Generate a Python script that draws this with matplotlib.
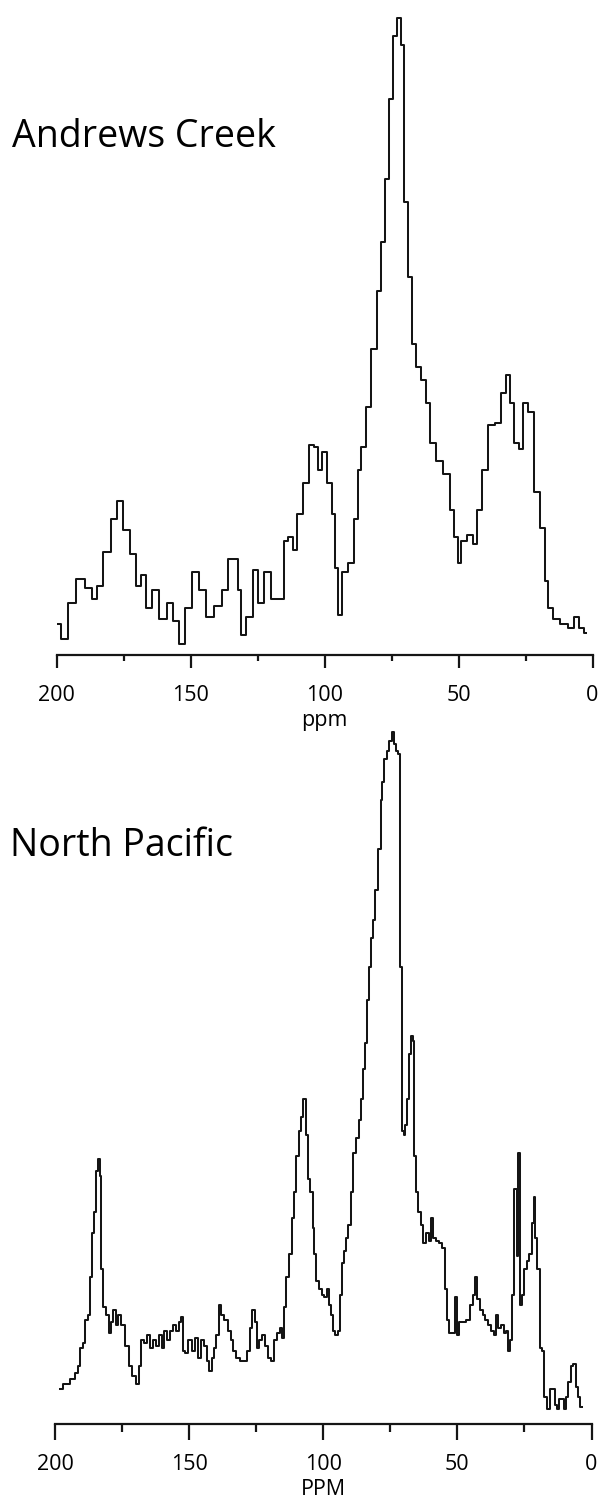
#!/usr/bin/env python

#===========================================================================
#
# Plot 13C NMR spectra - Andrews Creek and North Pacific
#
#===========================================================================

import matplotlib
matplotlib.use("Agg")
import matplotlib.pyplot as plt
from matplotlib.ticker import MultipleLocator

# Andrews Creek spectrum - chemical shift (ppm) and relative intensity

ppmAndrews = [200.0, 196.9, 194.7, 191.1, 187.5, 186.1, 184.0, 181.1, 178.2, 176.4,
              173.9, 171.1, 169.6, 167.5, 165.4, 163.2, 160.3, 157.5, 155.3, 153.2,
              151.0, 148.2, 145.3, 143.2, 139.6, 136.7, 135.3, 133.1, 131.7, 130.3,
              128.1, 125.6, 123.8, 121.0, 118.8, 115.5, 114.5, 112.4, 111.0, 109.5,
              106.7, 104.5, 103.1, 101.6, 100.2, 98.1, 96.6, 95.2, 94.5, 92.3,
              90.2, 88.0, 87.3, 85.2, 83.8, 81.6, 79.5, 78.0, 76.6, 75.2,
              73.7, 72.3, 70.9, 69.4, 68.0, 66.6, 65.1, 63.0, 61.6, 59.4,
              57.3, 54.4, 52.3, 50.8, 49.8, 48.0, 45.8, 43.7, 42.2, 40.1,
              37.9, 35.1, 32.9, 31.5, 30.1, 28.6, 26.5, 25.1, 22.9, 20.8,
              18.6, 17.2, 15.7, 13.6, 10.7, 7.9, 5.7, 4.3, 2.4]
intAndrews = [4.9, 2.5, 8.1, 11.9, 10.5, 8.8, 10.9, 16.1, 21.4, 24.2,
              19.6, 15.8, 10.9, 12.6, 7.4, 10.2, 5.6, 8.1, 5.3, 1.8,
              7.4, 13.0, 10.2, 6.0, 7.7, 10.2, 15.1, 15.1, 10.2, 3.2,
              6.0, 13.3, 8.1, 13.0, 8.8, 8.8, 17.9, 18.6, 16.5, 22.1,
              27.0, 33.0, 32.6, 29.1, 31.9, 27.0, 22.1, 13.7, 6.3, 13.0,
              14.4, 21.4, 29.1, 32.6, 38.9, 48.1, 57.2, 64.9, 74.7, 87.4,
              97.2, 100.0, 95.8, 71.2, 59.3, 48.8, 45.3, 43.2, 39.6, 33.3,
              30.5, 28.4, 22.8, 18.6, 14.4, 17.9, 18.9, 17.5, 22.8, 29.1,
              36.1, 36.5, 41.1, 43.9, 39.6, 33.3, 32.3, 39.6, 38.2, 25.6,
              20.0, 11.6, 7.4, 5.6, 4.9, 4.2, 6.0, 4.2, 3.5]

# North Pacific spectrum - chemical shift (ppm) and relative intensity

ppmPacific = [198.3, 195.4, 193.3, 191.9, 191.1, 190.4, 189.0, 188.3, 187.3, 186.6,
              185.7, 185.0, 184.4, 183.7, 183.0, 182.6, 181.9, 180.4, 179.4, 178.6,
              177.9, 176.9, 175.9, 174.7, 173.3, 171.9, 170.4, 169.4, 168.3, 167.3,
              166.1, 165.0, 164.0, 163.0, 161.9, 160.7, 159.7, 158.7, 157.6, 156.4,
              155.4, 154.4, 153.3, 152.6, 151.9, 150.9, 149.7, 148.3, 147.3, 146.1,
              145.1, 144.0, 143.0, 142.1, 141.1, 140.4, 139.3, 138.3, 137.6, 136.1,
              135.1, 134.0, 133.0, 131.9, 130.4, 129.0, 127.9, 126.9, 126.1, 125.1,
              124.4, 123.3, 122.1, 121.1, 120.1, 119.0, 117.9, 116.9, 115.7, 115.0,
              114.4, 113.3, 112.1, 111.1, 110.4, 109.7, 108.7, 107.9, 106.9, 106.1,
              105.4, 104.4, 103.6, 103.0, 102.1, 101.1, 100.1, 99.0, 98.3, 97.6,
              96.6, 95.9, 95.0, 94.0, 93.3, 92.6, 91.9, 91.1, 90.1, 89.3,
              88.3, 87.3, 86.1, 85.4, 84.7, 84.0, 83.3, 82.6, 81.9, 81.1,
              80.4, 79.0, 78.3, 77.6, 76.9, 75.9, 75.0, 74.0, 73.3, 72.6,
              71.9, 71.1, 70.4, 69.7, 69.0, 68.3, 67.6, 66.9, 66.1, 65.9,
              65.0, 64.0, 63.3, 62.1, 61.1, 60.1, 59.3, 58.7, 57.6, 56.1,
              55.0, 54.4, 53.6, 52.6, 51.6, 50.4, 49.7, 49.0, 47.6, 45.9,
              44.7, 43.6, 42.9, 42.1, 41.1, 40.1, 39.0, 37.9, 36.9, 35.9,
              35.1, 34.3, 33.3, 32.3, 31.6, 30.7, 30.1, 29.3, 28.3, 27.6,
              27.1, 26.4, 25.4, 24.7, 23.7, 22.6, 21.9, 21.3, 20.7, 19.7,
              19.0, 17.9, 17.3, 16.1, 15.1, 14.0, 13.3, 12.6, 11.6, 10.7,
              10.1, 9.0, 8.3, 7.3, 6.4, 5.4, 4.7, 3.7]
intPacific = [5.0, 5.8, 6.5, 7.3, 8.4, 11.0, 11.7, 15.0, 15.8, 21.3,
              27.6, 30.6, 36.5, 38.3, 35.8, 22.4, 16.9, 15.8, 13.2, 14.7,
              16.5, 14.3, 15.8, 14.3, 11.3, 8.4, 6.9, 5.8, 8.4, 12.1,
              11.7, 12.8, 11.0, 12.1, 11.3, 12.8, 11.0, 13.5, 12.1, 13.5,
              14.3, 13.5, 14.7, 15.4, 10.6, 10.2, 12.1, 10.6, 12.4, 9.5,
              12.1, 11.3, 9.1, 7.6, 9.5, 11.0, 12.8, 17.2, 15.8, 15.0,
              13.5, 12.1, 10.6, 9.5, 9.1, 9.1, 10.6, 13.9, 16.5, 14.7,
              11.0, 12.1, 12.8, 11.3, 9.5, 9.1, 12.1, 13.2, 13.9, 12.4,
              16.9, 21.3, 24.6, 29.8, 33.5, 38.7, 42.4, 44.3, 46.9, 41.7,
              35.4, 33.5, 28.3, 24.6, 20.6, 19.5, 18.7, 18.4, 19.5, 17.2,
              15.8, 13.5, 12.8, 13.5, 18.7, 23.2, 25.0, 26.9, 28.7, 33.5,
              39.1, 41.3, 43.9, 46.9, 51.3, 55.0, 61.3, 66.1, 70.2, 72.8,
              77.2, 83.1, 90.2, 92.7, 96.1, 97.2, 98.7, 100.0, 98.3, 97.2,
              96.8, 66.1, 42.4, 41.7, 43.2, 46.9, 53.5, 56.1, 55.4, 38.7,
              33.5, 30.6, 28.7, 26.1, 27.6, 26.5, 29.8, 26.9, 26.5, 26.1,
              25.4, 19.5, 15.0, 13.2, 13.2, 18.4, 12.8, 14.7, 14.7, 15.0,
              17.2, 18.7, 21.3, 18.0, 16.5, 15.8, 15.0, 14.3, 13.5, 12.8,
              15.8, 13.9, 14.3, 13.2, 13.5, 10.6, 12.1, 18.7, 33.9, 24.3,
              39.1, 17.2, 18.7, 22.4, 23.5, 24.6, 29.1, 32.8, 26.9, 22.4,
              11.0, 10.6, 3.9, 2.1, 5.0, 5.0, 2.8, 2.1, 3.6, 3.6,
              2.1, 3.9, 6.1, 8.4, 8.7, 5.4, 3.9, 2.4]

# panel titles and axis labels

panelTitles = ["Andrews Creek", "North Pacific"]
axisLabels = ["ppm", "PPM"]
majorTicks = [200, 150, 100, 50, 0]

fontName = "Open Sans"

########################################################################
# Draw one spectrum panel

def drawPanel(ax, ppm, intensity, xlabel, yTop, majLen, minLen,
              tickPad, labelPad):

    ax.plot(ppm, intensity, drawstyle='steps-mid',
            color='#151515', linewidth=1.45)

    ax.set_xlim(200, 0)
    ax.set_ylim(0, yTop)

    for side in ['top', 'left', 'right']:
        ax.spines[side].set_visible(False)
    ax.spines['bottom'].set_linewidth(1.6)
    ax.spines['bottom'].set_color('#151515')

    ax.set_yticks([])
    ax.set_xticks(majorTicks)
    ax.xaxis.set_minor_locator(MultipleLocator(25))
    ax.tick_params(axis='x', which='major', direction='out',
                   length=majLen, width=1.6, color='#151515',
                   pad=tickPad, labelsize=15.5)
    ax.tick_params(axis='x', which='minor', direction='out',
                   length=minLen, width=1.6, color='#151515')
    for lab in ax.get_xticklabels():
        lab.set_fontfamily(fontName)

    ax.set_xlabel(xlabel, fontsize=15.5, fontfamily=fontName,
                  labelpad=labelPad)
    ax.patch.set_alpha(0.0)

########################################################################
# Plot

def doPlot():

    widthPx = 600.0
    htPx = 1502.0
    dpi = 100

    fig1 = plt.figure(1, (widthPx / dpi, htPx / dpi), dpi=dpi)
    fig1.patch.set_facecolor('white')

    # top panel - axis line at y=655 px, 200..0 spans x=56.5..592.5

    ax1 = fig1.add_axes([56.5 / widthPx, (htPx - 655) / htPx,
                         536.0 / widthPx, 645.0 / htPx])
    drawPanel(ax1, ppmAndrews, intAndrews, axisLabels[0], 101.3,
              9.5, 4.0, 12, 3)

    # bottom panel - axis line at y=1424 px

    ax2 = fig1.add_axes([55.0 / widthPx, (htPx - 1424) / htPx,
                         536.5 / widthPx, 699.0 / htPx])
    drawPanel(ax2, ppmPacific, intPacific, axisLabels[1], 101.0,
              11.5, 5.5, 10, 3)

    # panel titles

    fig1.text(12 / widthPx, 1 - 147 / htPx, panelTitles[0],
              fontsize=27, fontfamily=fontName, va='baseline', ha='left')
    fig1.text(10 / widthPx, 1 - 856 / htPx, panelTitles[1],
              fontsize=27, fontfamily=fontName, va='baseline', ha='left')

    fig1.savefig('out.png', dpi=dpi, facecolor='white')

########################################################################
# Run - entry point

if __name__ == "__main__":
    doPlot()
